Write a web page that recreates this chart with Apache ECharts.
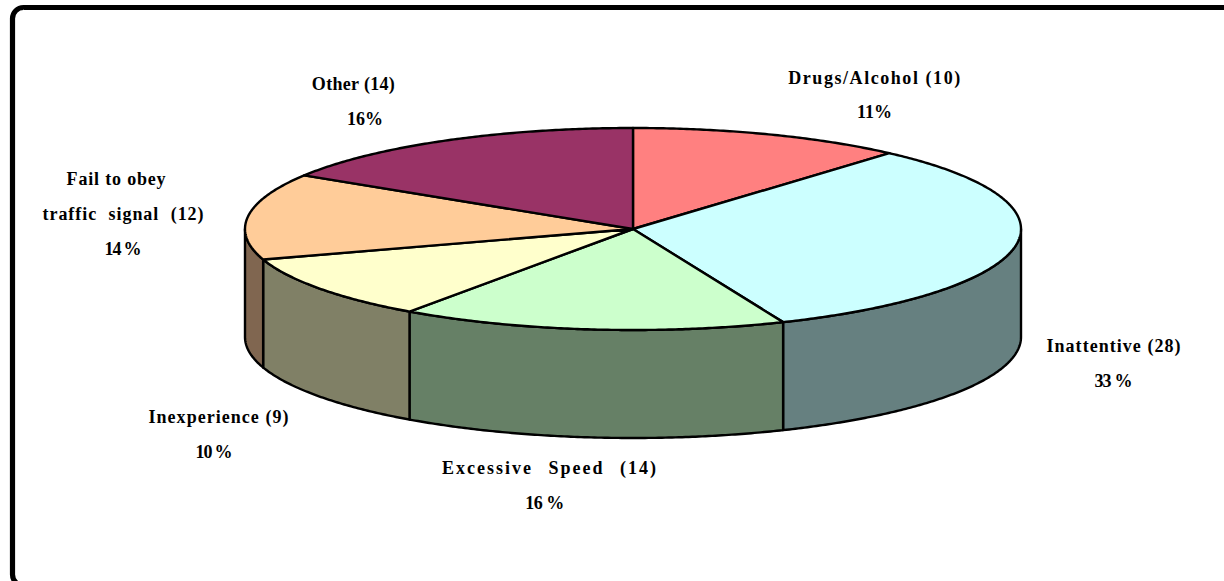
<!DOCTYPE html>
<html>
<head>
<meta charset="utf-8">
<style>html,body{margin:0;padding:0;background:#fff;overflow:hidden}#c{width:1224px;height:581px}</style>
<script src="https://cdn.jsdelivr.net/npm/echarts@6/dist/echarts.min.js"></script>
</head>
<body>
<div id="c"></div>
<script>
// Data
const categories = ['Drugs/Alcohol', 'Inattentive', 'Excessive Speed', 'Inexperience', 'Fail to obey\ntraffic signal', 'Other'];
const counts = [10, 28, 14, 9, 12, 14];
const percentLabels = ['11%', '33 %', '16 %', '10 %', '14 %', '16%'];

// Styling
const topColors = ['#FF8080', '#CCFFFF', '#CCFFCC', '#FFFFCC', '#FFCC99', '#993366'];
const sideColors = ['#806666', '#668080', '#668066', '#808066', '#806650', '#4D1A33'];

// Layout
const pie = { cx: 633, cy: 229, rx: 388, ry: 101, depth: 108 };
// for each category: centre x and y per text line, target width per line, extra word gap
const labelLayout = [
  { lines: [[875, 78, 172, 0], [874.5, 112, 35, 0]] },
  { lines: [[1114, 346, 134, 0], [1113, 381, 38, 0]] },
  { lines: [[550, 468, 214, 9], [544.5, 503, 39, 0]] },
  { lines: [[219, 417, 140, 0], [213.5, 452, 37, 0]] },
  { lines: [[116.5, 179, 99, 0], [123.5, 214, 161, 6], [122.5, 249, 37, 0]] },
  { lines: [[353.5, 84, 83, 0], [365, 119, 36, 0]] }
];
const FONT = 'bold 18px "Liberation Serif", serif';

const total = counts.reduce((a, b) => a + b, 0);
const cumulative = [];
counts.reduce((sum, v, i) => (cumulative[i] = sum, sum + v), 0);

function rimPoint(theta, dy) {
  return [pie.cx + pie.rx * Math.sin(theta), pie.cy - pie.ry * Math.cos(theta) + dy];
}
function arc(a0, a1, dy) {
  const n = Math.max(2, Math.ceil(Math.abs(a1 - a0) / (Math.PI / 360)));
  const pts = [];
  for (let k = 0; k <= n; k++) pts.push(rimPoint(a0 + (a1 - a0) * k / n, dy));
  return pts;
}
const lineStyle = { stroke: '#000', lineWidth: 2.4, lineJoin: 'round' };

function renderSlice(params, api) {
  const i = params.dataIndex;
  const a0 = cumulative[i] / total * Math.PI * 2;
  const a1 = (cumulative[i] + api.value(0)) / total * Math.PI * 2;
  const children = [];
  const s0 = Math.max(a0, Math.PI / 2), s1 = Math.min(a1, Math.PI * 1.5);
  if (s1 > s0) {
    children.push({
      type: 'polygon',
      shape: { points: arc(s0, s1, 0).concat(arc(s0, s1, pie.depth).reverse()) },
      style: Object.assign({ fill: sideColors[i] }, lineStyle)
    });
  }
  children.push({
    type: 'polygon',
    shape: { points: [[pie.cx, pie.cy]].concat(arc(a0, a1, 0)) },
    style: Object.assign({ fill: topColors[i] }, lineStyle)
  });
  return { type: 'group', children };
}

// text lines: built from the data, positioned by labelLayout
const fitInfo = [];
const textElements = [];
categories.forEach((name, i) => {
  const texts = name.split('\n');
  texts[texts.length - 1] += ' (' + counts[i] + ')';
  texts.push(percentLabels[i]);
  texts.forEach((t, j) => {
    const [x, y, width, gap] = labelLayout[i].lines[j];
    fitInfo.push({ text: t, width, gap });
    textElements.push({
      type: 'text', silent: true, z: 10,
      style: { text: t, x, y, align: 'center', verticalAlign: 'middle', font: FONT, fill: '#000' }
    });
  });
});

const chart = echarts.init(document.getElementById('c'), null, { renderer: 'svg' });
chart.setOption({
  animation: false,
  backgroundColor: '#fff',
  graphic: [
    { type: 'rect', silent: true, z: 0,
      shape: { x: 12.5, y: 7.5, width: 1400, height: 578, r: 11 },
      style: { fill: '#fff', stroke: '#000', lineWidth: 5.2 } }
  ].concat(textElements),
  series: [{
    type: 'custom',
    coordinateSystem: 'none',
    silent: true,
    z: 5,
    data: counts.map((v, i) => ({ name: categories[i], value: [v] })),
    renderItem: renderSlice
  }]
});

// stretch letter spacing of each text line to the reference width
function fitText() {
  document.querySelectorAll('#c svg text').forEach(el => {
    const info = fitInfo.find(f => f.text === el.textContent);
    if (!info || el.dataset.fit) return;
    el.dataset.fit = '1';
    el.style.wordSpacing = info.gap + 'px';
    const len = el.getComputedTextLength();
    el.style.letterSpacing = ((info.width - len) / (info.text.length - 1)).toFixed(3) + 'px';
  });
}
fitText();
chart.on('finished', fitText);
</script>
</body>
</html>
